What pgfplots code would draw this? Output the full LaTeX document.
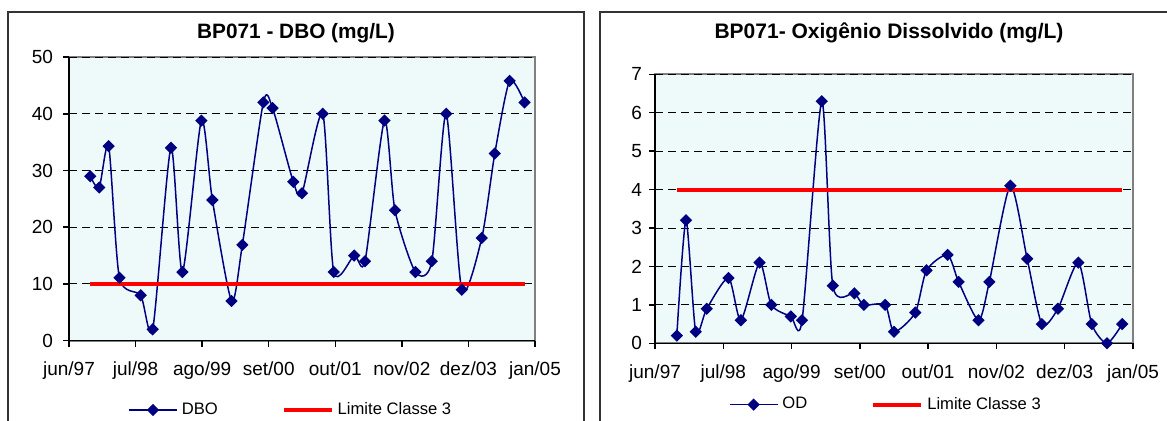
\documentclass[border=0pt]{standalone}
\usepackage{fontspec}
\setmainfont{Liberation Sans}
\usepackage{pgfplots}
\pgfplotsset{compat=1.18}

\definecolor{navyblue}{RGB}{0,0,128}
\definecolor{plotbg}{RGB}{238,250,250}
\definecolor{bordergray}{RGB}{128,128,128}
\definecolor{boxgray}{RGB}{51,51,51}

\pgfplotstableread{
m dbo
4.15 29
5.9 27
7.75 34.3
9.85 11.1
14 8
16.35 2
19.9 34
22.15 12.1
25.85 38.8
28 24.8
31.75 7
33.85 16.9
37.95 42
39.75 41
43.8 28
45.5 26
49.55 40
51.7 12.1
55.7 15
57.8 14
61.6 38.8
63.65 23
67.65 12.1
70.85 14
73.65 40
76.7 9
80.6 18.1
83.15 33
86.05 45.8
88.95 42
}\dbotable

\pgfplotstableread{
m od
4.15 0.2
5.9 3.2
7.75 0.3
9.85 0.9
14 1.7
16.35 0.6
19.9 2.1
22.15 1.0
25.85 0.7
28 0.6
31.75 6.3
33.85 1.5
37.95 1.3
39.75 1.0
43.8 1.0
45.5 0.3
49.55 0.8
51.7 1.9
55.7 2.3
57.8 1.6
61.6 0.6
63.65 1.6
67.65 4.1
70.85 2.2
73.65 0.5
76.7 0.9
80.6 2.1
83.15 0.5
86.05 0.0
88.95 0.5
}\odtable

\pgfplotsset{
  chartstyle/.style={
    scale only axis,
    anchor=south west,
    xmin=0, xmax=91,
    xtick={0,13,26,39,52,65,78,91},
    xticklabels={jun/97,jul/98,ago/99,set/00,out/01,nov/02,dez/03,jan/05},
    axis x line*=bottom,
    axis y line*=left,
    axis line style={black, line width=0.75pt},
    axis background/.style={fill=plotbg, draw=bordergray, line width=1pt},
    tick align=outside,
    major tick length=3pt,
    tick style={black, line width=0.75pt},
    ymajorgrids,
    grid style={black, line width=0.5pt, dash pattern=on 4pt off 2.5pt},
    tick label style={font=\fontsize{9.5}{11}\selectfont},
    /pgf/number format/assume math mode=true,
    yticklabel style={xshift=-1.5pt},
    xticklabel style={yshift=-4pt},
    legend columns=2,
    legend cell align=left,
    legend style={draw=none, fill=none, font=\fontsize{8.3}{10}\selectfont,
      anchor=center, inner sep=0pt,
      /tikz/every even column/.append style={column sep=30pt}},
    legend image code/.code={\draw[mark repeat=2,mark phase=2,##1] plot coordinates {(0pt,0pt) (12pt,0pt) (24pt,0pt)};},
  },
  dataline/.style={navyblue, line width=0.75pt, smooth, tension=0.42,
    mark=square*, mark size=1.8pt, mark options={rotate=45, solid, fill=navyblue}},
  limitline/.style={red, line width=2pt, no marks},
}

\begin{document}
\begin{tikzpicture}
\useasboundingbox (0pt,0pt) rectangle (583.5pt,210pt);
\begin{scope}
\clip (0pt,0pt) rectangle (583.5pt,210pt);
\draw[line width=1pt, boxgray] (4pt,204pt) rectangle (292pt,-5pt);
\draw[line width=1pt, boxgray] (300pt,204pt) rectangle (600pt,-5pt);
\end{scope}

\node[font=\bfseries\fontsize{10.4}{12}\selectfont] at (148pt,193.5pt) {BP071 - DBO (mg/L)};
\node[font=\bfseries\fontsize{10.5}{12}\selectfont] at (444.5pt,193.5pt) {BP071- Oxigênio Dissolvido (mg/L)};

\begin{axis}[chartstyle,
  at={(34.5pt,39.65pt)}, width=233pt, height=141.85pt,
  ymin=0, ymax=50, ytick={0,10,20,30,40,50},
  legend style={at={(0.478,-0.244)}}]
\addplot[dataline] table[x=m, y=dbo] {\dbotable};
\addlegendentry{DBO}
\addplot[limitline] coordinates {(4.15,10) (88.95,10)};
\addlegendentry{Limite Classe 3}
\end{axis}

\begin{axis}[chartstyle,
  at={(327.5pt,38.35pt)}, width=239pt, height=134.5pt,
  ymin=0, ymax=7, ytick={0,1,2,3,4,5,6,7},
  yticklabel style={xshift=1.5pt},
  legend style={at={(0.485,-0.228)}}]
\addplot[dataline] table[x=m, y=od] {\odtable};
\addlegendentry{OD}
\addplot[limitline] coordinates {(4.15,4) (88.95,4)};
\addlegendentry{Limite Classe 3}
\end{axis}
\end{tikzpicture}
\end{document}
